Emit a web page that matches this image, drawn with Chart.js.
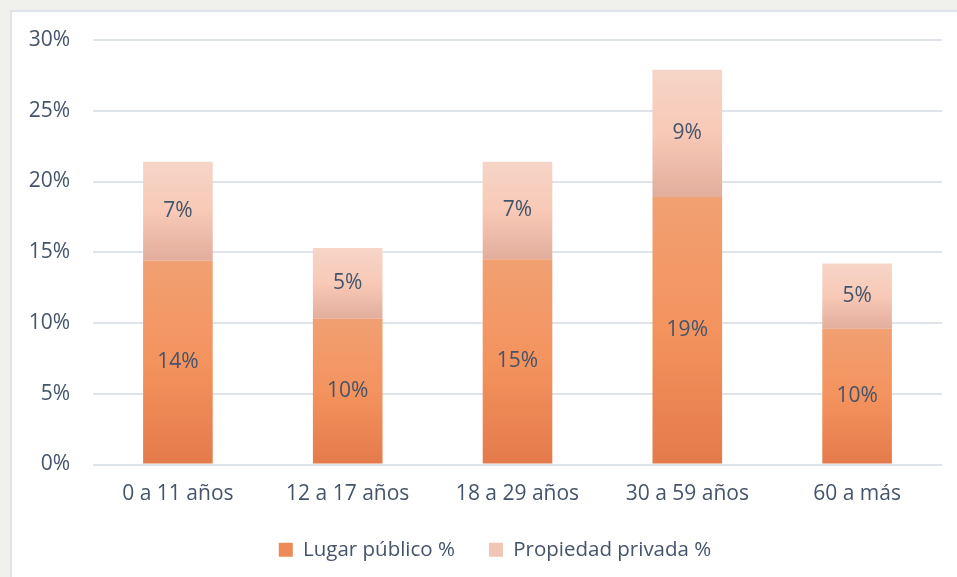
<!DOCTYPE html>
<html>
<head>
<meta charset="utf-8">
<script src="https://cdn.jsdelivr.net/npm/chart.js@4/dist/chart.umd.min.js"></script>
<style>
    html, body { margin: 0; padding: 0; }
    body { width: 957px; height: 577px; background: #f0f0ed; overflow: hidden; position: relative; }
    #frame {
        position: absolute; left: 10px; top: 10px; width: 960px; height: 580px;
        background: #ffffff; border-left: 2px solid #dde2eb; border-top: 2px solid #dde2eb;
    }
    #chart-box { position: absolute; left: 0; top: 0; width: 946px; height: 566px; }
</style>
</head>
<body>
<div id="frame">
    <div id="chart-box"><canvas id="edadChart"></canvas></div>
</div>
<script>
// Datos
const categorias = ['0 a 11 años', '12 a 17 años', '18 a 29 años', '30 a 59 años', '60 a más'];
const lugarPublico = [14.4, 10.3, 14.5, 18.9, 9.6];
const propiedadPrivada = [7.0, 5.0, 6.9, 9.0, 4.6];
const yTicks = [0, 5, 10, 15, 20, 25, 30];

const textColor = '#44546a';
const fontFamily = '"Open Sans", "DejaVu Sans", sans-serif';
const fontSize = 21;

// Colores del degradado (arriba, medio, abajo)
const publicoStops = ['#f1a072', '#f4935e', '#e47a4a'];
const privadoStops = ['#f6d5c8', '#f8c9b6', '#e2ad9c'];

/**
 * Crea el degradado vertical de cada barra a partir de la escala Y.
 */
function barGradient(context, stops, baseArr, valArr) {
    const chart = context.chart;
    const i = context.dataIndex;
    if (!chart.chartArea || i === undefined || context.type !== 'data') return stops[1];
    const y = chart.scales.y;
    const base = baseArr ? baseArr[i] : 0;
    const top = y.getPixelForValue(base + valArr[i]);
    const bottom = y.getPixelForValue(base);
    const g = chart.ctx.createLinearGradient(0, top, 0, bottom);
    g.addColorStop(0, stops[0]);
    g.addColorStop(0.5, stops[1]);
    g.addColorStop(1, stops[2]);
    return g;
}

// Etiquetas de valor dentro de cada segmento
const valueLabels = {
    id: 'valueLabels',
    afterLayout(chart) {
        // la leyenda del original está algo desplazada a la derecha
        chart.legend.left += 18;
        chart.legend.right += 18;
    },
    afterDatasetsDraw(chart) {
        const ctx = chart.ctx;
        ctx.save();
        ctx.font = fontSize + 'px ' + fontFamily;
        ctx.fillStyle = textColor;
        ctx.textAlign = 'center';
        ctx.textBaseline = 'middle';
        chart.data.datasets.forEach((ds, di) => {
            chart.getDatasetMeta(di).data.forEach((bar, j) => {
                ctx.fillText(Math.round(ds.data[j]) + '%', bar.x, (bar.y + bar.base) / 2);
            });
        });
        ctx.restore();
    }
};

new Chart(document.getElementById('edadChart'), {
    type: 'bar',
    data: {
        labels: categorias,
        datasets: [{
            label: 'Lugar público %',
            data: lugarPublico,
            backgroundColor: c => barGradient(c, publicoStops, null, lugarPublico),
            legendColor: '#ee8a58',
            categoryPercentage: 1,
            barPercentage: 0.41
        }, {
            label: 'Propiedad privada %',
            data: propiedadPrivada,
            backgroundColor: c => barGradient(c, privadoStops, lugarPublico, propiedadPrivada),
            legendColor: '#f2c6b6',
            categoryPercentage: 1,
            barPercentage: 0.41
        }]
    },
    options: {
        responsive: true,
        maintainAspectRatio: false,
        animation: false,
        layout: { padding: { left: 0, top: 28, right: 16, bottom: 8 } },
        scales: {
            x: {
                stacked: true,
                grid: { display: false },
                border: { display: false },
                ticks: { color: textColor, font: { family: fontFamily, size: fontSize }, padding: 9 },
                afterFit: s => { s.height = 41; }
            },
            y: {
                stacked: true,
                min: 0,
                max: 30,
                afterBuildTicks: s => { s.ticks = yTicks.map(v => ({ value: v })); },
                grid: { color: '#dfe3ea', lineWidth: 2, drawTicks: false },
                border: { display: false },
                ticks: {
                    color: textColor,
                    font: { family: fontFamily, size: fontSize },
                    padding: 23,
                    callback: v => v + '%'
                },
                afterFit: s => { s.width = 81; s.paddingTop = 0; s.paddingBottom = 0; }
            }
        },
        plugins: {
            tooltip: { enabled: false },
            legend: {
                position: 'bottom',
                labels: {
                    color: textColor,
                    font: { family: fontFamily, size: 20.5 },
                    boxWidth: 14,
                    boxHeight: 14,
                    padding: 34,
                    generateLabels: chart => chart.data.datasets.map((ds, i) => ({
                        text: ds.label,
                        fillStyle: ds.legendColor,
                        strokeStyle: ds.legendColor,
                        lineWidth: 0,
                        fontColor: textColor,
                        datasetIndex: i
                    }))
                }
            }
        }
    },
    plugins: [valueLabels]
});
</script>
</body>
</html>
